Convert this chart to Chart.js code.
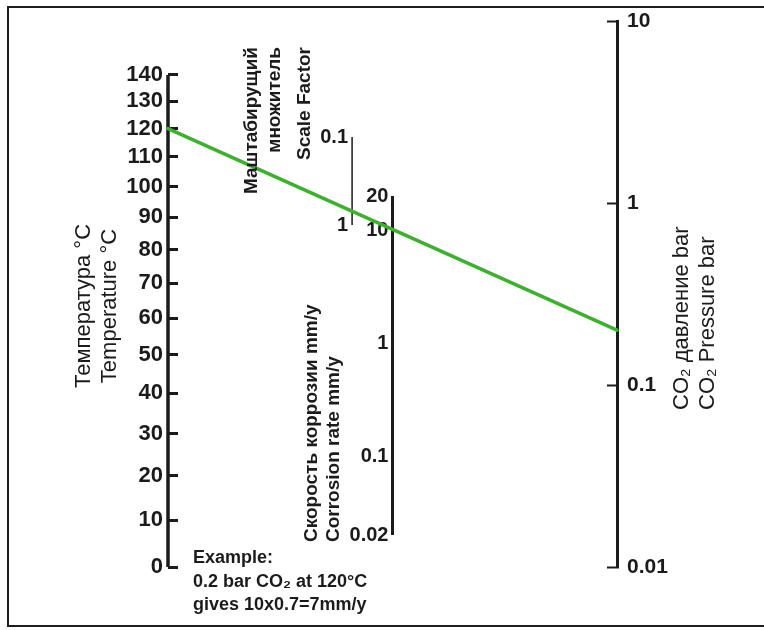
<!DOCTYPE html>
<html>
<head>
<meta charset="utf-8">
<script src="https://cdn.jsdelivr.net/npm/chart.js@4.4.0/dist/chart.umd.min.js"></script>
<style>
  html, body { margin: 0; padding: 0; background: #fff; }
  #wrap { position: relative; width: 764px; height: 630px; overflow: hidden; }
  #frame { position: absolute; left: 7px; top: 6px; width: 820px; height: 617px; border: 2px solid #1e1e1e; }
  #chart { position: absolute; left: 0; top: 0; }
</style>
</head>
<body>
<div id="wrap">
  <div id="frame"></div>
  <canvas id="chart" width="764" height="630"></canvas>
</div>
<script>
// nomogram scales
const tempTicks = [0, 10, 20, 30, 40, 50, 60, 70, 80, 90, 100, 110, 120, 130, 140];
const factorTicks = [0.1, 1];
const rateTicks = [0.02, 0.1, 1, 10, 20];
const pressureTicks = [0.01, 0.1, 1, 10];

// where each scale stands across the sheet (0 = temperature, 1 = pressure)
const axisPos = { temp: 0, factor: 0.41, rate: 0.5, pressure: 1 };
const labelGap = 0.009; // labels of the middle scales sit a little left of their line

// worked example (green line)
const exampleTemp = 120;
const examplePressure = 0.2;

const ink = '#1b1b1b';
const family = "'Liberation Sans', Arial, sans-serif";
const tickFont = size => ({ family: family, size: size, weight: 'bold' });

// printed temperature scale is reciprocal, not linear
const TEMP_SHIFT = 385;
class ReciprocalScale extends Chart.LinearScale {
  _g(v) { return -1 / (v + TEMP_SHIFT); }
  getPixelForValue(v) {
    const a = this._g(this.min), b = this._g(this.max);
    return this.getPixelForDecimal((this._g(v) - a) / (b - a));
  }
  getValueForPixel(p) {
    const a = this._g(this.min), b = this._g(this.max);
    const g = a + this.getDecimalForPixel(p) * (b - a);
    return -1 / g - TEMP_SHIFT;
  }
}
ReciprocalScale.id = 'reciprocal';
ReciprocalScale.defaults = Chart.LinearScale.defaults;
Chart.register(ReciprocalScale);

function setTicks(values) {
  return scale => { scale.ticks = values.map(v => ({ value: v })); };
}

// fixed width, and no extra room reserved above/below for the end labels
function fitTo(width) {
  return scale => {
    if (width !== undefined) scale.width = width;
    scale.paddingTop = 0;
    scale.paddingBottom = 0;
  };
}

function axisLine(id, pos, values, width) {
  return {
    yAxisID: id,
    data: [{ x: pos, y: values[0] }, { x: pos, y: values[values.length - 1] }],
    borderColor: ink,
    borderWidth: width,
    borderCapStyle: 'butt',
    pointRadius: 0,
    clip: false
  };
}

// green example line, joined across the temperature and pressure scales
const examplePlugin = {
  id: 'exampleLine',
  afterDatasetsDraw(chart) {
    const s = chart.scales;
    const ctx = chart.ctx;
    ctx.save();
    ctx.strokeStyle = '#3bb22c';
    ctx.lineWidth = 3.5;
    ctx.lineCap = 'round';
    ctx.beginPath();
    ctx.moveTo(s.x.getPixelForValue(axisPos.temp), s.temp.getPixelForValue(exampleTemp));
    ctx.lineTo(s.x.getPixelForValue(axisPos.pressure), s.pressure.getPixelForValue(examplePressure));
    ctx.stroke();
    ctx.restore();
  }
};

// axis titles and the example note
const textPlugin = {
  id: 'texts',
  afterDraw(chart) {
    const ctx = chart.ctx;
    const up = -Math.PI / 2;
    function put(text, x, y, font, align, rot) {
      ctx.save();
      ctx.translate(x, y);
      ctx.rotate(rot);
      ctx.font = font;
      ctx.textAlign = align;
      ctx.textBaseline = 'middle';
      ctx.fillStyle = ink;
      ctx.fillText(text, 0, 0);
      ctx.restore();
    }
    const reg22 = '22px ' + family;
    const bold19 = 'bold 19px ' + family;
    const bold18 = 'bold 18px ' + family;

    put('Температура °C', 84, 306, reg22, 'center', up);
    put('Temperature °C', 110, 306, reg22, 'center', up);

    put('Маштабирущий', 252, 47, bold19, 'right', up);
    put('множитель', 275, 47, bold19, 'right', up);
    put('Scale Factor', 305, 47, bold19, 'right', up);

    put('Скорость коррозии mm/y', 312, 542, bold19, 'left', up);
    put('Corrosion rate mm/y', 334, 542, bold19, 'left', up);

    put('CO₂ давление bar', 682, 410, reg22, 'left', up);
    put('CO₂ Pressure bar', 708, 410, reg22, 'left', up);

    put('Example:', 193, 558, bold18, 'left', 0);
    put('0.2 bar CO₂ at 120°C', 193, 582, bold18, 'left', 0);
    put('gives 10x0.7=7mm/y', 193, 605, bold18, 'left', 0);
  }
};

new Chart(document.getElementById('chart'), {
  type: 'line',
  data: {
    datasets: [
      axisLine('temp', axisPos.temp, tempTicks, 3.5),
      axisLine('factor', axisPos.factor, factorTicks, 1.5),
      axisLine('rate', axisPos.rate, rateTicks, 3)
    ]
  },
  options: {
    responsive: false,
    animation: false,
    events: [],
    layout: { padding: { left: 0, right: 0, top: 21, bottom: 63 } },
    plugins: { legend: { display: false }, tooltip: { enabled: false } },
    scales: {
      x: { axis: 'x', type: 'linear', min: 0, max: 1, display: false },
      temp: {
        axis: 'y', type: 'reciprocal', position: 'left', min: 0, max: 161.8, bounds: 'data',
        afterFit: fitTo(168),
        afterBuildTicks: setTicks(tempTicks),
        border: { display: false },
        grid: { drawOnChartArea: false, color: ink, tickLength: -10, tickWidth: 3 },
        ticks: { autoSkip: false, padding: 15, color: ink, font: tickFont(22), callback: v => String(v) }
      },
      factor: {
        axis: 'y', type: 'logarithmic', position: { x: axisPos.factor - labelGap }, reverse: true,
        min: 0.004805, max: 7697, bounds: 'data',
        afterFit: fitTo(),
        afterBuildTicks: setTicks(factorTicks),
        border: { display: false },
        grid: { display: false, drawTicks: false },
        ticks: { autoSkip: false, padding: 0, color: ink, font: tickFont(20), callback: v => String(v) }
      },
      rate: {
        axis: 'y', type: 'logarithmic', position: { x: axisPos.rate - labelGap },
        min: 0.010416, max: 707.4, bounds: 'data',
        afterFit: fitTo(),
        afterBuildTicks: setTicks(rateTicks),
        border: { display: false },
        grid: { display: false, drawTicks: false },
        ticks: { autoSkip: false, padding: 0, color: ink, font: tickFont(20), callback: v => String(v) }
      },
      pressure: {
        axis: 'y', type: 'logarithmic', position: 'right', min: 0.01, max: 10, bounds: 'data',
        afterFit: fitTo(147),
        afterBuildTicks: setTicks(pressureTicks),
        border: { display: true, color: ink, width: 3 },
        grid: { drawOnChartArea: false, color: ink, tickLength: -10, tickWidth: 2 },
        ticks: { autoSkip: false, padding: 20, color: ink, font: tickFont(21), callback: v => String(v) }
      }
    }
  },
  plugins: [examplePlugin, textPlugin]
});
</script>
</body>
</html>
